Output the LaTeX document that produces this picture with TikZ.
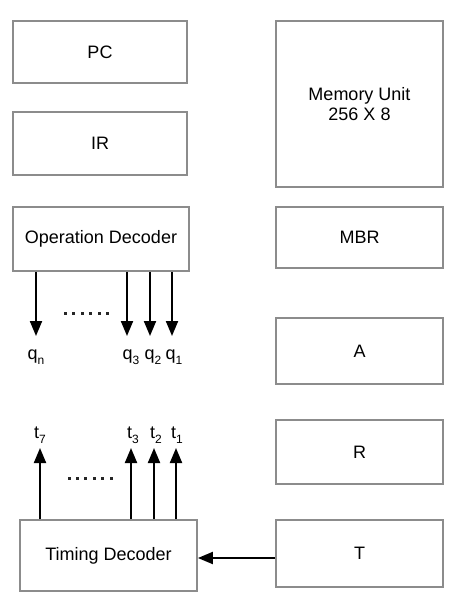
\documentclass[tikz,border=0pt]{standalone}
\usepackage{fontspec}
\setmainfont{Liberation Sans}
\usetikzlibrary{arrows.meta}
\begin{document}
\begin{tikzpicture}[x=1pt,y=-1pt,
  blk/.style={draw=black!45,line width=1.8pt,rectangle,inner sep=0pt,font=\fontsize{18}{20}\selectfont,align=center},
  arr/.style={line width=2pt,-{Triangle[length=15pt,width=12pt]}},
  lbl/.style={font=\fontsize{18}{20}\selectfont,inner sep=0pt},
  dot/.style={fill=black!85,minimum size=3pt,inner sep=0pt,rectangle}]
\useasboundingbox (0,0) rectangle (459,612);
\newcommand{\sbs}[2]{#1\raisebox{-5pt}{\fontsize{12}{12}\selectfont #2}}
% left column
\node[blk,minimum width=174pt,minimum height=62pt] (pc) at (100,52) {PC};
\node[blk,minimum width=174pt,minimum height=63pt] (ir) at (100,143.5) {IR};
\node[blk,minimum width=176pt,minimum height=64pt] (od) at (101,239) {Operation Decoder};
\node[blk,minimum width=177pt,minimum height=71pt] (td) at (108.5,555.5) {Timing Decoder};
% right column
\node[blk,minimum width=167pt,minimum height=166pt] (mem) at (359.5,104) {Memory Unit\\256 X 8};
\node[blk,minimum width=167pt,minimum height=61pt] (mbr) at (359.5,237.5) {MBR};
\node[blk,minimum width=167pt,minimum height=66pt] (a) at (359.5,351) {A};
\node[blk,minimum width=167pt,minimum height=64pt] (r) at (359.5,452) {R};
\node[blk,minimum width=167pt,minimum height=67pt] (t) at (359.5,553.5) {T};
% q outputs
\coordinate (qen) at (36,336);
\coordinate (qe3) at (127,336);
\coordinate (qe2) at (150,336);
\coordinate (qe1) at (172,336);
\draw[arr] (od.south -| qen) -- (qen);
\draw[arr] (od.south -| qe3) -- (qe3);
\draw[arr] (od.south -| qe2) -- (qe2);
\draw[arr] (od.south -| qe1) -- (qe1);
\node[lbl] (qn) at (36,357) {\sbs{q}{n}};
\node[lbl] (q3) at (131,357) {\sbs{q}{3}};
\node[lbl] (q2) at (153,357) {\sbs{q}{2}};
\node[lbl] (q1) at (174,357) {\sbs{q}{1}};
\foreach \i in {0,...,5} \node[dot] (qd\i) at (65.5+8.4*\i,313) {};
% t inputs
\coordinate (ten) at (40,448);
\coordinate (te3) at (131,448);
\coordinate (te2) at (154,448);
\coordinate (te1) at (176,448);
\draw[arr] (td.north -| ten) -- (ten);
\draw[arr] (td.north -| te3) -- (te3);
\draw[arr] (td.north -| te2) -- (te2);
\draw[arr] (td.north -| te1) -- (te1);
\node[lbl] (t7) at (40,435) {\sbs{t}{7}};
\node[lbl] (t3) at (133,435) {\sbs{t}{3}};
\node[lbl] (t2) at (156,435) {\sbs{t}{2}};
\node[lbl] (t1) at (177,435) {\sbs{t}{1}};
\foreach \i in {0,...,5} \node[dot] (td\i) at (69+8.4*\i,478) {};
% T to timing decoder
\draw[arr] (t.west |- 0,558) -- (td.east |- 0,558);
\end{tikzpicture}
\end{document}
